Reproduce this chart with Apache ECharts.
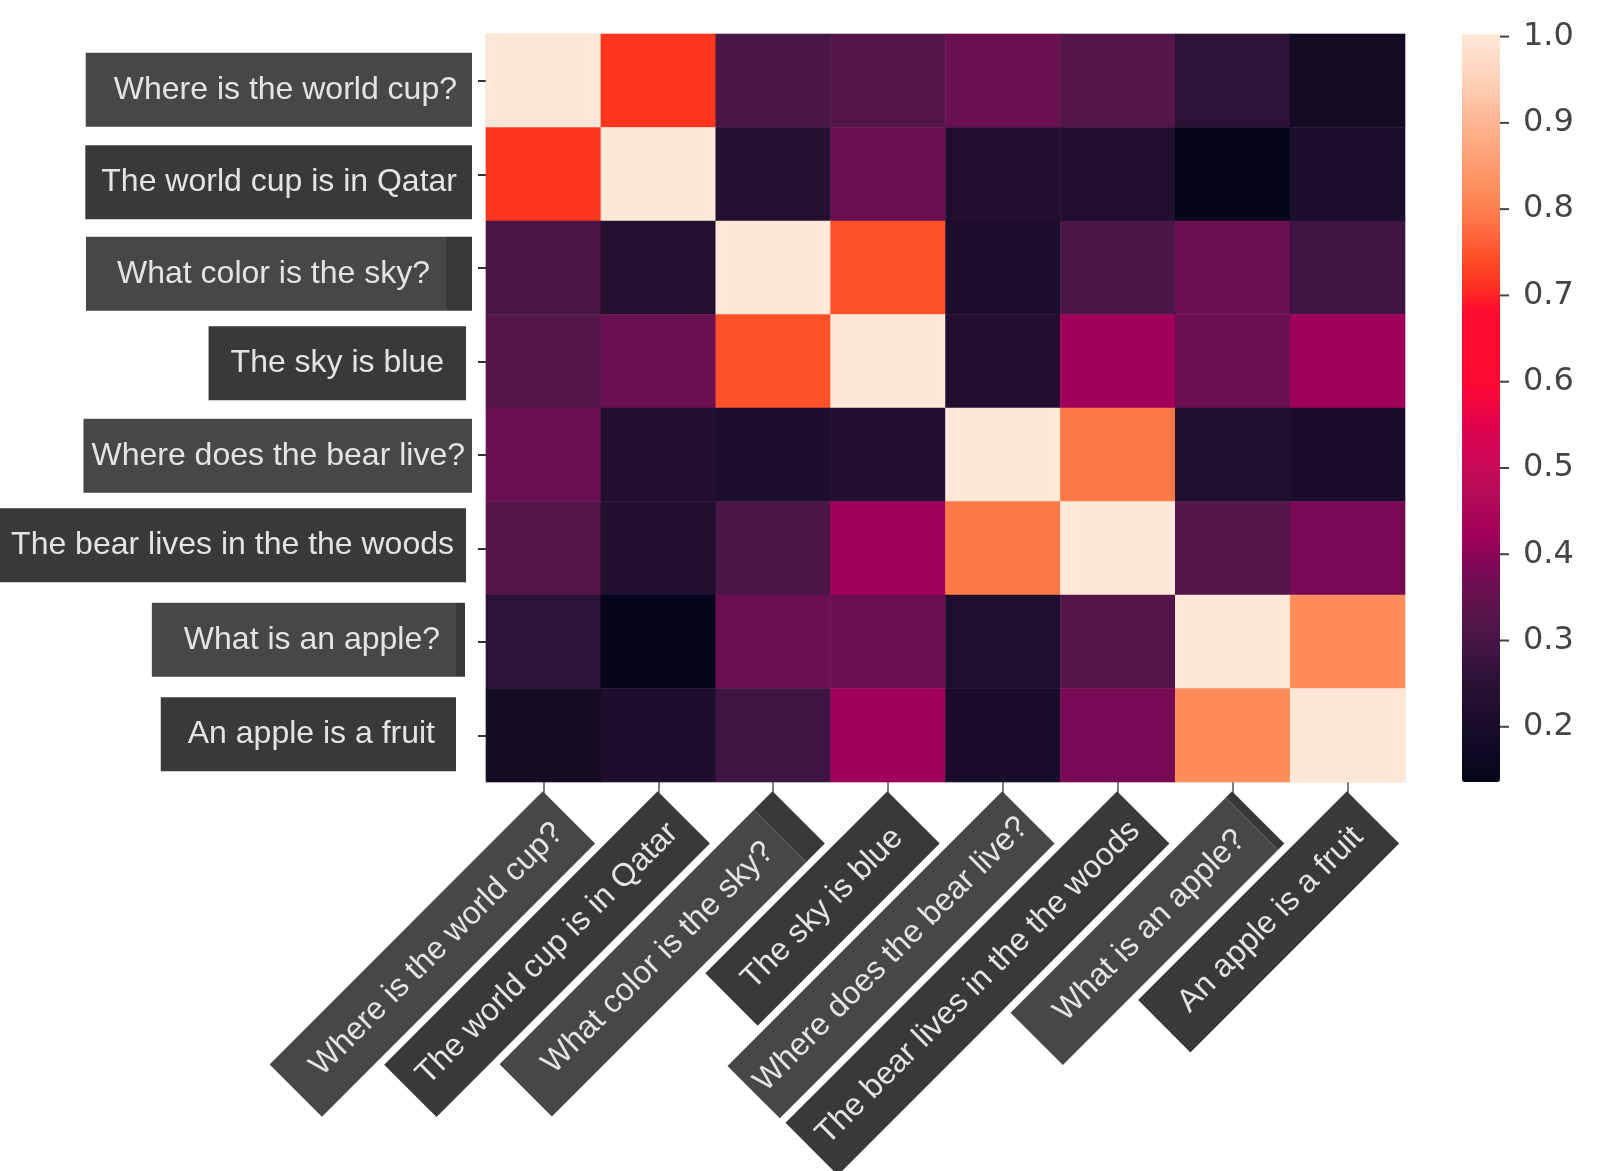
<!DOCTYPE html>
<html>
<head>
<meta charset="utf-8">
<script src="https://cdn.jsdelivr.net/npm/echarts@6/dist/echarts.min.js"></script>
<style>
html,body{margin:0;padding:0;background:#ffffff;}
#chart{width:1600px;height:1171px;}
</style>
</head>
<body>
<div id="chart"></div>
<script>
// ---------------- DATA ----------------
const sentences = [
  'Where is the world cup?',
  'The world cup is in Qatar',
  'What color is the sky?',
  'The sky is blue',
  'Where does the bear live?',
  'The bear lives in the the woods',
  'What is an apple?',
  'An apple is a fruit'
];

const rowWorldCupQ   = [1.0,   0.715, 0.305, 0.325, 0.36,  0.325, 0.255, 0.185];
const rowWorldCupA   = [0.715, 1.0,   0.24,  0.36,  0.225, 0.225, 0.14,  0.215];
const rowSkyQ        = [0.305, 0.24,  1.0,   0.745, 0.215, 0.305, 0.36,  0.285];
const rowSkyA        = [0.325, 0.36,  0.745, 1.0,   0.225, 0.42,  0.36,  0.42];
const rowBearQ       = [0.36,  0.225, 0.215, 0.225, 1.0,   0.79,  0.22,  0.205];
const rowBearA       = [0.325, 0.225, 0.305, 0.42,  0.79,  1.0,   0.325, 0.38];
const rowAppleQ      = [0.255, 0.14,  0.36,  0.36,  0.22,  0.325, 1.0,   0.82];
const rowAppleA      = [0.185, 0.215, 0.285, 0.42,  0.205, 0.38,  0.82,  1.0];
const similarityRows = [rowWorldCupQ, rowWorldCupA, rowSkyQ, rowSkyA, rowBearQ, rowBearA, rowAppleQ, rowAppleA];

const colorbarTickMin = 0.2;
const colorbarTickMax = 1.0;
const colorbarTickStep = 0.1;
const colorbarMin = 0.136;
const colorbarMax = 1.003;

// ---------------- STYLE ----------------
const boxColors = ['#474747','#393939','#474747','#393939','#474747','#393939','#474747','#393939'];
const padLeft   = [28, 16, 31, 22, 8, 14, 32, 27];
const padRight  = [15, 15, 16, 22, 7, 12, 16, 21];
const endStrip  = [0, 0, 26, 0, 0, 0, 9, 0];
const yGapExtra = [0, 0, 0, 6, 0, 6, 7, 16];
const yShift    = [9, 8, 6, 2, 1, -3, -2, -1];

const cmapStops = [
  [0.136,'#03051a'],[0.14,'#05061b'],[0.185,'#140b25'],[0.205,'#1a0d2a'],[0.215,'#1e0e2d'],
  [0.225,'#220e2f'],[0.24,'#261031'],[0.255,'#2c1236'],[0.285,'#3e1442'],[0.305,'#4a1645'],
  [0.325,'#541548'],[0.36,'#6a1050'],[0.38,'#780a55'],[0.42,'#a0005a'],[0.46,'#b00a58'],
  [0.5,'#c80a58'],[0.55,'#e0024c'],[0.6,'#ff0a32'],[0.68,'#ff0a30'],[0.715,'#ff3520'],
  [0.745,'#ff5028'],[0.79,'#ff7848'],[0.82,'#ff8c5a'],[0.9,'#ffb592'],[0.95,'#ffd2b8'],
  [1.003,'#ffe9d9']
];
function hex2rgb(h){return [parseInt(h.slice(1,3),16),parseInt(h.slice(3,5),16),parseInt(h.slice(5,7),16)];}
function cmap(v){
  if (v <= cmapStops[0][0]) return cmapStops[0][1];
  for (let k = 1; k < cmapStops.length; k++) {
    if (v <= cmapStops[k][0]) {
      const a = cmapStops[k-1], b = cmapStops[k];
      const t = (v - a[0]) / (b[0] - a[0]);
      const ca = hex2rgb(a[1]), cb = hex2rgb(b[1]);
      const c = ca.map((x, i) => Math.round(x + (cb[i] - x) * t));
      return 'rgb(' + c.join(',') + ')';
    }
  }
  return cmapStops[cmapStops.length-1][1];
}
const rampColors = [];
for (let i = 0; i <= 300; i++) rampColors.push(cmap(colorbarMin + (colorbarMax - colorbarMin) * i / 300));

// colorbar geometry: bar spans y 34..782 for colorbarMin..colorbarMax
const CB_TOP = 34, CB_H = 748;
const pxPerUnit = CB_H / (colorbarMax - colorbarMin);
const tickGridTop = CB_TOP + (colorbarMax - colorbarTickMax) * pxPerUnit;
const tickGridH = (colorbarTickMax - colorbarTickMin) * pxPerUnit;

const FONT = 'Liberation Sans, Arial, Helvetica, sans-serif';
const TEXT_COLOR = '#e4e4e4';

// rich styles
const yRich = {}, xRich = {};
for (let i = 0; i < sentences.length; i++) {
  const box = {
    color: TEXT_COLOR, fontSize: 32, fontFamily: FONT, lineHeight: 32,
    backgroundColor: boxColors[i], padding: [21, padRight[i], 21, padLeft[i]]
  };
  yRich['b' + i] = box;
  xRich['b' + i] = Object.assign({}, box);
  if (endStrip[i]) {
    const e = { backgroundColor: '#383838', width: endStrip[i], height: 74, lineHeight: 74, fontSize: 10 };
    yRich['e' + i] = e;
    xRich['e' + i] = Object.assign({}, e);
  }
  if (yGapExtra[i]) yRich['g' + i] = { width: yGapExtra[i], height: 10, fontSize: 10 };
  if (yShift[i]) yRich['s' + i] = { height: Math.abs(yShift[i]) * 2, lineHeight: Math.abs(yShift[i]) * 2, fontSize: 2 };
}
xRich.sp = { height: 72, lineHeight: 72, fontSize: 2 };

function yFmt(value, idx) {
  let s = '{b' + idx + '|' + value + '}';
  if (endStrip[idx]) s += '{e' + idx + '| }';
  if (yGapExtra[idx]) s += '{g' + idx + '| }';
  if (yShift[idx] > 0) s = '{s' + idx + '| }\n' + s;
  else if (yShift[idx] < 0) s = s + '\n{s' + idx + '| }';
  return s;
}
function xFmt(value, idx) {
  let s = '{b' + idx + '|' + value + '}';
  if (endStrip[idx]) s += '{e' + idx + '| }';
  return '{sp| }\n' + s;
}
// colorbar label with a drawn tick mark in front of it
const cbRich = {
  t: { width: 9, height: 2, lineHeight: 2, fontSize: 2, backgroundColor: '#444444' },
  v: { color: '#444444', fontSize: 32, fontFamily: 'DejaVu Sans, sans-serif', lineHeight: 36, padding: [0, 0, 0, 14] }
};
function cbFmt(v) { return '{t| }{v|' + v.toFixed(1) + '}'; }

// heatmap data built from the rows
const heatData = [];
similarityRows.forEach((row, r) => row.forEach((v, c) => heatData.push([c, r, v])));

const chart = echarts.init(document.getElementById('chart'), null, { renderer: 'canvas' });
chart.setOption({
  animation: false,
  backgroundColor: '#ffffff',
  grid: [
    { left: 486, top: 34, width: 919, height: 748, show: true, borderColor: '#dddddd', borderWidth: 1, backgroundColor: 'transparent', outerBoundsMode: 'none', containLabel: false },
    { left: 1462, top: tickGridTop, width: 38, height: tickGridH, show: false, outerBoundsMode: 'none', containLabel: false }
  ],
  xAxis: [
    {
      type: 'category', gridIndex: 0, data: sentences, position: 'bottom',
      axisLine: { show: false },
      axisTick: { show: true, alignWithLabel: true, length: 11, lineStyle: { color: '#555', width: 1.5 } },
      axisLabel: { interval: 0, rotate: 45, margin: 10, formatter: xFmt, rich: xRich, hideOverlap: false },
      splitLine: { show: false }
    },
    { type: 'value', gridIndex: 1, show: false, min: 0, max: 1 }
  ],
  yAxis: [
    {
      type: 'category', gridIndex: 0, data: sentences, inverse: true,
      axisLine: { show: false },
      axisTick: { show: true, alignWithLabel: true, length: 8, lineStyle: { color: '#333', width: 2 } },
      axisLabel: { interval: 0, margin: 14, formatter: yFmt, rich: yRich, hideOverlap: false },
      splitLine: { show: false }
    },
    {
      type: 'value', gridIndex: 1, position: 'right',
      min: colorbarTickMin, max: colorbarTickMax, interval: colorbarTickStep,
      axisLine: { show: false },
      axisTick: { show: false },
      axisLabel: { show: true, margin: 0, formatter: cbFmt, rich: cbRich },
      splitLine: { show: false }
    }
  ],
  visualMap: {
    type: 'continuous', seriesIndex: 0, min: colorbarMin, max: colorbarMax,
    calculable: false, hoverLink: false, realtime: false,
    orient: 'vertical', left: 1462, top: CB_TOP, itemWidth: 38, itemHeight: CB_H, padding: 0,
    inRange: { color: rampColors }
  },
  series: [{
    type: 'heatmap', xAxisIndex: 0, yAxisIndex: 0, data: heatData,
    itemStyle: { borderWidth: 0 },
    emphasis: { disabled: true },
    label: { show: false }
  }]
});
</script>
</body>
</html>
